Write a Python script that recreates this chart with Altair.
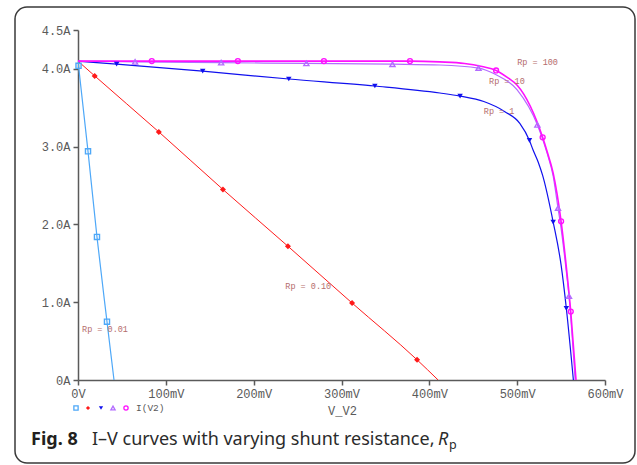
import altair as alt
import pandas as pd

# ---------------- data (V in mV, I in A) ----------------
series = ["Rp = 0.01", "Rp = 0.10", "Rp = 1", "Rp = 10", "Rp = 100"]
colors = ["#4ea8f8", "#ff1a1a", "#1010ee", "#b36cff", "#ff10ff"]
widths = [1.2, 1.0, 1.2, 1.2, 1.6]
shapes = ["square", "diamond", "triangle-down", "triangle-up", "circle"]
filled = [False, True, True, False, False]
msizes = [26, 36, 30, 26, 24]

v_001 = [0, 0.6, 11.4, 21.6, 33, 41]
i_001 = [4.10, 4.04, 2.94, 1.84, 0.75, 0.0]
mv_001 = [0.6, 11.4, 21.6, 33]
mi_001 = [4.04, 2.94, 1.84, 0.75]

v_010 = [0, 19, 92, 165, 239, 312, 386, 410]
i_010 = [4.10, 3.91, 3.19, 2.45, 1.72, 0.99, 0.26, 0.0]
mv_010 = [19, 92, 165, 239, 312, 386]
mi_010 = [3.91, 3.19, 2.45, 1.72, 0.99, 0.26]

v_1 = [0, 44, 142, 240, 338, 412, 435, 462, 486, 503, 514, 518, 524, 529, 541, 550, 556, 564]
i_1 = [4.10, 4.06, 3.97, 3.87, 3.78, 3.69, 3.65, 3.58, 3.45, 3.30, 3.08, 2.96, 2.80, 2.63, 2.03, 1.48, 0.92, 0.0]
mv_1 = [44, 142, 240, 338, 435, 514, 541, 556]
mi_1 = [4.06, 3.97, 3.87, 3.78, 3.65, 3.08, 2.03, 0.92]

v_10 = [0, 65, 163, 260, 358, 412, 456, 475, 500, 523, 534, 541, 546.5, 550, 555, 559, 566]
i_10 = [4.10, 4.09, 4.08, 4.07, 4.06, 4.05, 4.01, 3.93, 3.73, 3.28, 2.92, 2.62, 2.21, 1.95, 1.49, 1.08, 0.0]
mv_10 = [65, 163, 260, 358, 456, 523, 546.5, 559]
mi_10 = [4.09, 4.08, 4.07, 4.06, 4.01, 3.28, 2.21, 1.08]

v_100 = [0, 84, 182, 280, 378, 412, 440, 460, 476, 490, 500, 515, 529, 534, 541, 550, 556, 561, 567]
i_100 = [4.10, 4.10, 4.10, 4.10, 4.10, 4.09, 4.07, 4.03, 3.98, 3.88, 3.79, 3.52, 3.12, 2.94, 2.66, 2.04, 1.45, 0.88, 0.0]
mv_100 = [84, 182, 280, 378, 476, 529, 550, 561]
mi_100 = [4.10, 4.10, 4.10, 4.10, 3.98, 3.12, 2.04, 0.88]

curves_v = [v_001, v_010, v_1, v_10, v_100]
curves_i = [i_001, i_010, i_1, i_10, i_100]
marks_v = [mv_001, mv_010, mv_1, mv_10, mv_100]
marks_i = [mi_001, mi_010, mi_1, mi_10, mi_100]

# curve labels (anchor in data coordinates)
label_text = ["Rp = 0.01", "Rp = 0.10", "Rp = 1", "Rp = 10", "Rp = 100"]
label_v = [4.6, 236, 462, 468, 500]
label_i = [0.65, 1.21, 3.46, 3.85, 4.09]

x_ticks = [0, 100, 200, 300, 400, 500, 600]
y_ticks = [0, 1, 2, 3, 4, 4.5]

# legend strip (pixel offsets from plot origin)
legend_px = [-2, 10, 23, 35, 48]

AX = "#5a5a5a"
MONO = "Liberation Mono"

xscale = alt.Scale(domain=[0, 600], nice=False, zero=False)
yscale = alt.Scale(domain=[0, 4.5], nice=False, zero=False)

xaxis = alt.Axis(values=x_ticks, labelExpr="datum.value == 0 ? '0V' : datum.value + 'mV'",
                 grid=False, tickSize=5, tickColor=AX, domainColor=AX, tickWidth=1.5, domainWidth=1.5,
                 labelColor=AX, labelFont=MONO, labelFontSize=12, labelPadding=3,
                 labelFlush=False, labelOverlap=False,
                 title="V_V2", titleFont=MONO, titleFontSize=12, titleFontWeight="normal",
                 titleColor=AX, titleX=264, titleY=30, titleBaseline="middle")
yaxis = alt.Axis(values=y_ticks,
                 labelExpr="datum.value == 0 ? '0A' : format(datum.value, '.1f') + 'A'",
                 grid=False, tickSize=5, tickColor=AX, domainColor=AX, tickWidth=1.5, domainWidth=1.5,
                 labelColor=AX, labelFont=MONO, labelFontSize=12, labelPadding=3,
                 labelFlush=False, labelOverlap=False, title=None)

X = alt.X("V:Q", scale=xscale, axis=xaxis)
Y = alt.Y("I:Q", scale=yscale, axis=yaxis)

layers = []
for k in range(5):
    df = pd.DataFrame({"V": curves_v[k], "I": curves_i[k]})
    layers.append(alt.Chart(df).mark_line(color=colors[k], strokeWidth=widths[k],
                                          interpolate="monotone", clip=True)
                  .encode(x=X, y=Y))
for k in range(5):
    dm = pd.DataFrame({"V": marks_v[k], "I": marks_i[k]})
    layers.append(alt.Chart(dm).mark_point(shape=shapes[k], color=colors[k], filled=filled[k],
                                           size=msizes[k], strokeWidth=1.4, opacity=1)
                  .encode(x=X, y=Y))

dl = pd.DataFrame({"V": label_v, "I": label_i, "t": label_text})
layers.append(alt.Chart(dl).mark_text(align="left", baseline="middle", font=MONO, fontSize=8.5,
                                      color="#b56d6d")
              .encode(x=X, y=Y, text="t:N"))

one = alt.Data(values=[{"a": 1}])
# legend strip
for k in range(5):
    layers.append(alt.Chart(one).mark_point(shape=shapes[k], color=colors[k], filled=filled[k],
                                            size=18, strokeWidth=1.3, opacity=1)
                  .encode(x=alt.value(legend_px[k]), y=alt.value(378)))
layers.append(alt.Chart(one).mark_text(text="I(V2)", align="left", baseline="middle", font=MONO,
                                       fontSize=9.5, color=AX)
              .encode(x=alt.value(58), y=alt.value(378)))

# rounded frame
layers.append(alt.Chart(one).mark_rect(fillOpacity=0, stroke="#3a3a3a", strokeWidth=1.5,
                                       cornerRadius=12)
              .encode(x=alt.value(-63), x2=alt.value(557), y=alt.value(-23), y2=alt.value(433)))

# caption
CAP = "Noto Sans"
layers.append(alt.Chart(one).mark_text(text="Fig. 8", align="left", baseline="alphabetic", font=CAP,
                                       fontSize=18, fontWeight="bold", color="#231f20")
              .encode(x=alt.value(-47), y=alt.value(415)))
layers.append(alt.Chart(one).mark_text(text="I\u2013V curves with varying shunt resistance,", align="left",
                                       baseline="alphabetic", font=CAP, fontSize=18, color="#2b2b2b")
              .encode(x=alt.value(14), y=alt.value(415)))
layers.append(alt.Chart(one).mark_text(text="R", align="left", baseline="alphabetic", font=CAP,
                                       fontSize=18, fontStyle="italic", color="#2b2b2b")
              .encode(x=alt.value(360), y=alt.value(415)))
layers.append(alt.Chart(one).mark_text(text="p", align="left", baseline="alphabetic", font=CAP,
                                       fontSize=12.5, color="#2b2b2b")
              .encode(x=alt.value(371), y=alt.value(419)))

chart = alt.layer(*layers).properties(
    width=527, height=350,
    padding={"left": 78, "top": 30, "right": 32, "bottom": 85},
    autosize=alt.AutoSizeParams(type="none"),
    background="white",
).configure_view(stroke=None)

chart.save("out.html", embed_options={"renderer": "svg", "actions": False})
